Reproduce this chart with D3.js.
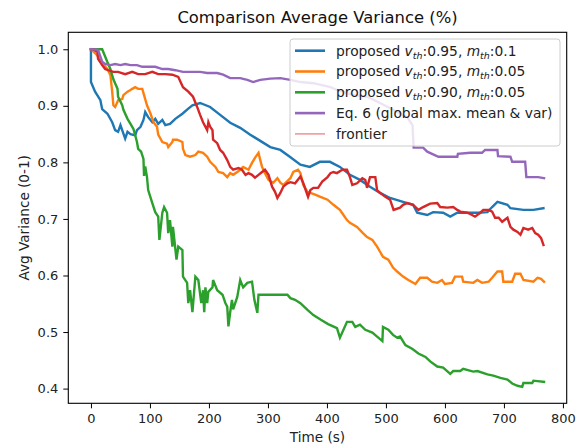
<!DOCTYPE html>
<html>
<head>
<meta charset="utf-8">
<script src="https://cdn.jsdelivr.net/npm/d3@7"></script>
<style>
  html, body { margin: 0; padding: 0; background: #fff; }
  svg { display: block; font-family: "DejaVu Sans", sans-serif; }
</style>
</head>
<body>
<svg id="chart" width="585" height="448"></svg>
<script>
// ---------------- data ----------------
const title = "Comparison Average Variance (%)";
const xLabel = "Time (s)";
const yLabel = "Avg Variance (0-1)";
const xTicks = [0, 100, 200, 300, 400, 500, 600, 700, 800];
const yTicks = [0.4, 0.5, 0.6, 0.7, 0.8, 0.9, 1.0];

// proposed v_th:0.95, m_th:0.1 (blue)
const blueT = [0,0,7,16,19,28,36,41,46,50,58,62,67,75,78,84,89,92,97,104,109,114,121,126,134,143,155,165,172,185,202,219,236,253,270,287,304,321,337,355,371,388,405,422,439,456,473,490,507,529,546,553,570,580,597,609,621,631,655,672,680,689,706,711,733,750,767];
const blueV = [1.0,0.942,0.925,0.910,0.894,0.886,0.871,0.857,0.854,0.866,0.842,0.854,0.850,0.848,0.857,0.863,0.875,0.889,0.880,0.871,0.877,0.868,0.875,0.866,0.868,0.877,0.886,0.895,0.901,0.905,0.898,0.884,0.870,0.861,0.849,0.838,0.827,0.822,0.810,0.796,0.792,0.801,0.801,0.792,0.778,0.769,0.757,0.746,0.737,0.730,0.725,0.711,0.707,0.712,0.711,0.704,0.711,0.711,0.711,0.712,0.721,0.730,0.725,0.719,0.716,0.716,0.719];

// proposed v_th:0.95, m_th:0.05 (orange)
const orangeT = [0,10,20,28,33,36,38,41,45,46,53,55,62,67,70,75,80,87,90,95,101,106,112,114,121,129,131,138,139,146,155,156,160,168,177,182,190,197,202,211,216,224,231,236,241,248,253,258,267,273,278,284,287,290,295,301,309,316,321,326,338,343,351,355,360,367,380,389,401,411,422,428,434,439,451,461,468,477,485,490,495,504,512,519,529,538,550,558,570,578,587,595,600,612,617,629,631,648,655,663,674,680,689,697,699,714,719,728,733,750,757,763,768];
const orangeV = [1.0,0.99,0.975,0.965,0.954,0.925,0.901,0.898,0.907,0.910,0.912,0.919,0.925,0.928,0.930,0.933,0.930,0.930,0.919,0.901,0.886,0.871,0.863,0.849,0.836,0.833,0.827,0.836,0.840,0.840,0.836,0.824,0.813,0.810,0.813,0.819,0.817,0.810,0.801,0.792,0.783,0.781,0.774,0.781,0.778,0.783,0.787,0.792,0.787,0.799,0.808,0.817,0.804,0.792,0.781,0.769,0.764,0.772,0.764,0.760,0.772,0.783,0.787,0.781,0.760,0.748,0.743,0.739,0.734,0.725,0.716,0.707,0.698,0.693,0.686,0.675,0.668,0.663,0.651,0.642,0.633,0.628,0.614,0.607,0.598,0.592,0.585,0.596,0.596,0.589,0.587,0.592,0.585,0.587,0.598,0.598,0.589,0.587,0.592,0.587,0.589,0.596,0.607,0.607,0.589,0.589,0.603,0.603,0.592,0.589,0.596,0.594,0.589];

// proposed v_th:0.90, m_th:0.05 (green)
const greenT = [0,19,28,33,38,45,46,53,55,62,67,72,75,78,80,85,89,90,92,95,97,104,109,114,116,121,124,129,131,134,138,139,145,148,155,156,163,165,168,172,177,182,187,190,192,194,197,199,206,207,214,223,228,231,233,236,239,241,248,253,258,265,273,277,282,284,333,338,346,355,367,377,389,402,417,422,428,434,443,448,456,465,477,485,494,495,504,512,519,524,533,545,555,567,575,587,597,609,614,626,631,648,655,672,682,694,706,714,723,731,733,748,750,768];
const greenV = [1.0,1.0,0.977,0.965,0.947,0.930,0.916,0.901,0.893,0.877,0.868,0.859,0.848,0.836,0.824,0.819,0.806,0.776,0.793,0.774,0.751,0.728,0.712,0.704,0.663,0.711,0.721,0.711,0.675,0.698,0.651,0.686,0.628,0.651,0.645,0.598,0.587,0.551,0.574,0.535,0.598,0.592,0.551,0.574,0.535,0.579,0.551,0.571,0.579,0.592,0.574,0.566,0.551,0.545,0.510,0.535,0.557,0.540,0.562,0.592,0.579,0.587,0.589,0.557,0.534,0.566,0.566,0.560,0.557,0.551,0.539,0.530,0.522,0.514,0.507,0.490,0.504,0.518,0.518,0.509,0.513,0.504,0.499,0.492,0.484,0.509,0.504,0.495,0.490,0.492,0.477,0.470,0.462,0.456,0.448,0.439,0.437,0.426,0.431,0.431,0.435,0.430,0.431,0.425,0.423,0.419,0.416,0.409,0.405,0.403,0.410,0.410,0.414,0.412];

// unlabeled red curve
const redT = [0,4,11,12,19,24,29,38,46,58,70,80,92,104,114,126,138,148,156,165,173,180,185,190,197,199,202,206,207,214,219,224,231,236,241,250,256,262,267,273,278,284,290,295,301,307,312,316,321,326,333,338,346,355,360,368,372,377,385,392,401,406,411,417,426,434,439,443,451,460,465,468,473,482,485,490,499,507,513,524,529,536,546,555,563,575,587,592,604,614,621,626,638,646,651,660,665,674,680,685,691,697,706,711,716,723,728,733,741,748,753,758,763,767];
const redV = [1.0,1.0,0.995,0.983,0.972,0.965,0.963,0.960,0.960,0.956,0.960,0.956,0.956,0.960,0.956,0.956,0.955,0.951,0.933,0.925,0.916,0.898,0.884,0.871,0.857,0.871,0.863,0.857,0.840,0.834,0.822,0.817,0.804,0.792,0.787,0.790,0.787,0.778,0.781,0.778,0.773,0.778,0.783,0.787,0.778,0.757,0.748,0.737,0.746,0.757,0.763,0.765,0.763,0.775,0.763,0.739,0.751,0.755,0.755,0.766,0.774,0.781,0.783,0.781,0.787,0.787,0.774,0.760,0.763,0.772,0.769,0.755,0.774,0.774,0.751,0.746,0.739,0.734,0.716,0.720,0.725,0.728,0.725,0.716,0.721,0.727,0.728,0.721,0.720,0.721,0.716,0.713,0.711,0.707,0.704,0.711,0.716,0.716,0.713,0.702,0.702,0.695,0.702,0.686,0.681,0.677,0.672,0.684,0.681,0.684,0.675,0.672,0.666,0.654];

// Eq. 6 (purple)
const purpleT = [0,12,19,24,33,41,50,58,67,78,87,97,109,121,131,143,156,168,185,197,214,224,236,253,265,275,287,304,321,338,355,377,406,417,445,468,490,512,536,545,547,563,570,589,604,621,622,643,663,668,689,690,711,714,736,738,758,768];
const purpleV = [1.0,0.999,0.978,0.974,0.972,0.974,0.972,0.974,0.972,0.972,0.969,0.969,0.969,0.965,0.965,0.963,0.960,0.960,0.960,0.958,0.958,0.955,0.949,0.949,0.946,0.942,0.946,0.948,0.949,0.946,0.942,0.940,0.933,0.928,0.919,0.916,0.905,0.893,0.880,0.866,0.826,0.826,0.819,0.810,0.810,0.810,0.815,0.817,0.817,0.822,0.822,0.811,0.810,0.801,0.801,0.774,0.774,0.772];

const legendLabels = [
  {pre: "proposed ", v: "0.95", m: "0.1"},
  {pre: "proposed ", v: "0.95", m: "0.05"},
  {pre: "proposed ", v: "0.90", m: "0.05"},
  {text: "Eq. 6 (global max. mean & var)"},
  {text: "frontier"}
];

// ---------------- drawing ----------------
const svg = d3.select("#chart");
const L = 68.3, R = 566.7, T = 32.3, B = 403.3;

const x = d3.scaleLinear().domain([-38.4, 806.4]).range([L, R]);
const y = d3.scaleLinear().domain([0.374, 1.03]).range([B, T]);

const colors = {
  blue: "#1f77b4", orange: "#ff7f0e", green: "#2ca02c",
  red: "#d62728", purple: "#9467bd", frontier: "#ee8a8b"
};

const line = d3.line().x(d => x(d[0])).y(d => y(d[1]));
function zipSeries(t, v) { return t.map((tt, i) => [tt, v[i]]); }

const series = [
  {t: blueT, v: blueV, c: colors.blue},
  {t: orangeT, v: orangeV, c: colors.orange},
  {t: greenT, v: greenV, c: colors.green},
  {t: redT, v: redV, c: colors.red},
  {t: purpleT, v: purpleV, c: colors.purple}
];

svg.append("defs").append("clipPath").attr("id", "clip")
  .append("rect").attr("x", L).attr("y", T).attr("width", R - L).attr("height", B - T);

const plot = svg.append("g").attr("clip-path", "url(#clip)");
series.forEach(s => {
  plot.append("path")
    .datum(zipSeries(s.t, s.v))
    .attr("d", line)
    .attr("fill", "none")
    .attr("stroke", s.c)
    .attr("stroke-width", 2.4)
    .attr("stroke-linejoin", "miter")
    .attr("stroke-linecap", "square");
});

// axes
const xAxis = d3.axisBottom(x).tickValues(xTicks).tickSize(5).tickPadding(5).tickFormat(d3.format("d"));
const yAxis = d3.axisLeft(y).tickValues(yTicks).tickSize(5).tickPadding(5).tickFormat(d3.format(".1f"));

const gx = svg.append("g").attr("transform", `translate(0,${B})`).call(xAxis);
const gy = svg.append("g").attr("transform", `translate(${L},0)`).call(yAxis);
[gx, gy].forEach(g => {
  g.select(".domain").remove();
  g.selectAll(".tick line").attr("stroke", "#000").attr("stroke-width", 1);
  g.selectAll(".tick text").attr("fill", "#222").style("font-size", "13px")
    .style("font-family", "'DejaVu Sans', sans-serif");
});

// frame
svg.append("rect").attr("x", L).attr("y", T).attr("width", R - L).attr("height", B - T)
  .attr("fill", "none").attr("stroke", "#000").attr("stroke-width", 1.1);

// title & labels
svg.append("text").attr("x", (L + R) / 2).attr("y", 23).attr("text-anchor", "middle")
  .style("font-size", "16.4px").attr("fill", "#111").text(title);
svg.append("text").attr("x", (L + R) / 2).attr("y", 442).attr("text-anchor", "middle")
  .style("font-size", "13.6px").attr("fill", "#222").text(xLabel);
svg.append("text").attr("transform", `translate(29,${(T + B) / 2}) rotate(-90)`)
  .attr("text-anchor", "middle").style("font-size", "13.6px").attr("fill", "#222").text(yLabel);

// legend
const lg = svg.append("g");
lg.append("rect").attr("x", 290).attr("y", 39).attr("width", 270).attr("height", 107)
  .attr("rx", 3).attr("fill", "#fff").attr("fill-opacity", 0.82)
  .attr("stroke", "#cccccc").attr("stroke-width", 1);
const legendColors = [colors.blue, colors.orange, colors.green, colors.purple, colors.frontier];
legendLabels.forEach((lab, i) => {
  const yy = 50.7 + i * 20.8;
  lg.append("line").attr("x1", 295).attr("x2", 325).attr("y1", yy).attr("y2", yy)
    .attr("stroke", legendColors[i]).attr("stroke-width", i === 4 ? 1.4 : 2.6);
  const t = lg.append("text").attr("x", 336).attr("y", yy + 4.8)
    .style("font-size", "13.8px").attr("fill", "#222");
  if (lab.text) {
    t.text(lab.text);
  } else {
    t.append("tspan").text(lab.pre);
    t.append("tspan").attr("font-style", "italic").text("v");
    t.append("tspan").attr("font-style", "italic").attr("dy", 3).style("font-size", "9.5px").text("th");
    t.append("tspan").attr("dy", -3).text(":" + lab.v + ", ");
    t.append("tspan").attr("font-style", "italic").text("m");
    t.append("tspan").attr("font-style", "italic").attr("dy", 3).style("font-size", "9.5px").text("th");
    t.append("tspan").attr("dy", -3).text(":" + lab.m);
  }
});
</script>
</body>
</html>
